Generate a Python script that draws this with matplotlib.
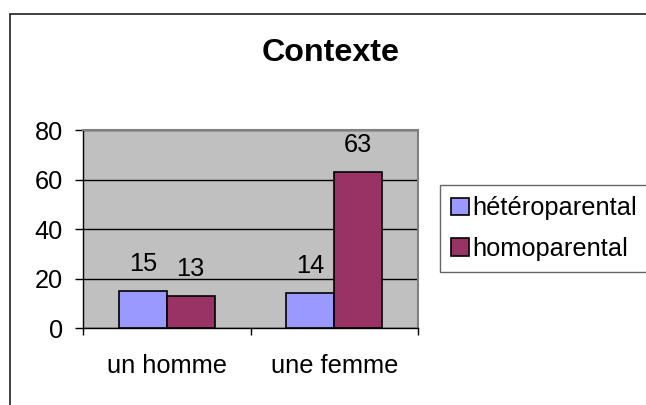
import matplotlib
matplotlib.use("Agg")
import matplotlib.pyplot as plt
import numpy as np
from matplotlib.patches import Patch, Rectangle

plt.rcParams['font.family'] = ['Liberation Sans', 'DejaVu Sans']

title = "Contexte"
categories = ["un homme", "une femme"]
series_names = ["hétéroparental", "homoparental"]
hetero = [15, 14]
homo = [13, 63]
colors = ["#9999FF", "#993366"]
yticks = [0, 20, 40, 60, 80]

W, H = 646, 405
fig = plt.figure(figsize=(W / 100, H / 100), dpi=100)
fs = 18.3

ax = fig.add_axes([83 / W, 1 - 328 / H, (418 - 83) / W, (328 - 130) / H])
ax.set_facecolor("#C0C0C0")

x = np.arange(len(categories))
bw = 1 / 3.5
for i, (vals, c) in enumerate(zip([hetero, homo], colors)):
    pos = x + (i - 0.5) * bw
    ax.bar(pos, vals, width=bw, color=c, edgecolor="black", linewidth=1.2, zorder=3)
    for xp, v in zip(pos, vals):
        ax.annotate(str(v), (xp, v), xytext=(0, 14.4), textcoords="offset points",
                    ha="center", va="baseline", fontsize=fs)

ax.set_xlim(-0.5, len(categories) - 0.5)
ax.set_ylim(0, 80)
ax.set_yticks(yticks)
ax.tick_params(axis="y", length=5.8, width=1, color="black", labelsize=fs, pad=8.6)
ax.yaxis.grid(True, color="black", linewidth=1, zorder=1)
ax.set_axisbelow(True)

ax.set_xticks(x)
ax.set_xticklabels(categories, fontsize=fs)
ax.tick_params(axis="x", which="major", length=0, pad=18.5)
ax.set_xticks(np.arange(len(categories) + 1) - 0.5, minor=True)
ax.tick_params(axis="x", which="minor", length=5, width=1, color="black", direction="out")

for s in ["left", "bottom"]:
    ax.spines[s].set_color("black")
    ax.spines[s].set_linewidth(1)
for s in ["top", "right"]:
    ax.spines[s].set_color("#808080")
    ax.spines[s].set_linewidth(1.5)

fig.text(330.5 / W, 1 - 61 / H, title, ha="center", va="baseline",
         fontsize=23.2, fontweight="bold")

handles = [Patch(facecolor=c, edgecolor="black", linewidth=1.2) for c in colors]
leg = fig.legend(handles, series_names, loc="upper left",
                 bbox_to_anchor=(440 / W, 1 - 185 / H), borderaxespad=0,
                 fontsize=fs, frameon=True, fancybox=False, edgecolor="#404040",
                 handlelength=0.7, handleheight=0.7, handletextpad=0.12,
                 borderpad=0.45, labelspacing=0.65)
leg.get_frame().set_linewidth(1)

# outer chart frame: only the top and left edges fall inside the picture
fig.add_artist(Rectangle((10 / W, -0.2), 1.5, 1.2 - 14 / H, transform=fig.transFigure,
                         facecolor="none", edgecolor="#202020", linewidth=1.2))

fig.savefig("out.png", dpi=100)
